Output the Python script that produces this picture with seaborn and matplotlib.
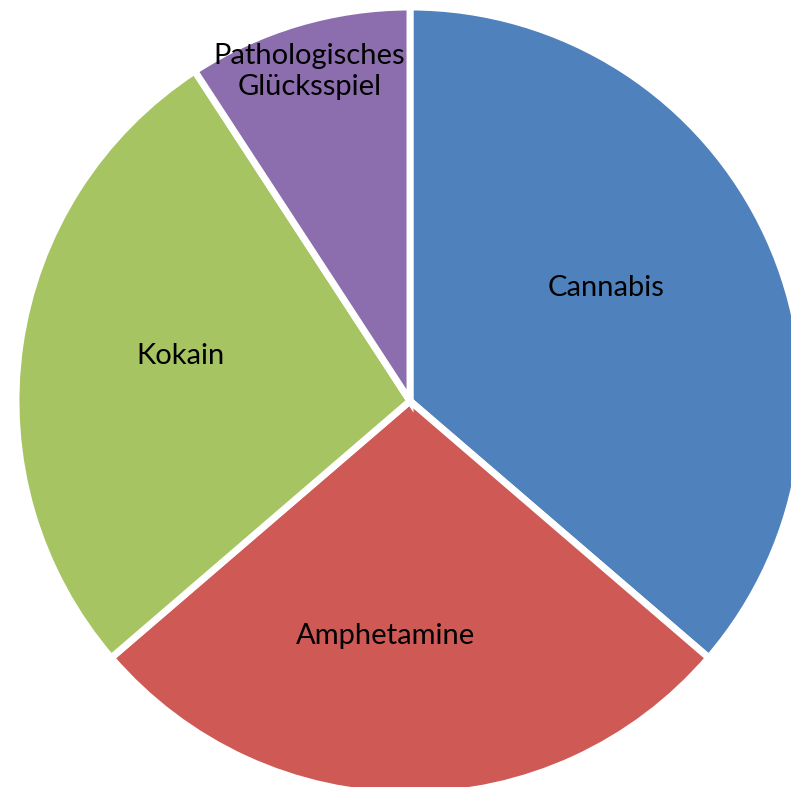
import matplotlib
matplotlib.use("Agg")
import matplotlib.pyplot as plt
import seaborn as sns
import numpy as np

categories = ["Cannabis", "Amphetamine", "Kokain", "Pathologisches\nGlücksspiel"]
values = [36.3, 27.4, 27.1, 9.2]
colors = ["#4F81BD", "#CF5955", "#A6C462", "#8C6DAE"]
# label placement relative to pie centre (fraction of radius, angle in degrees)
label_polar = [(0.574, 30.0), (0.601, -96.0), (0.594, 168.8), (0.874, 107.0)]

sns.set_theme(style="white")
plt.rcParams['font.family'] = ['Lato', 'DejaVu Sans']

W, H = 791, 787
fig = plt.figure(figsize=(W / 100, H / 100), dpi=100)
ax = fig.add_axes([0, 0, 1, 1])

cx, cy, R = 410, H - 401, 394
wedges, texts = ax.pie(values, labels=categories, colors=colors, startangle=90,
                       counterclock=False, center=(cx, cy), radius=R,
                       labeldistance=0.6, frame=True,
                       wedgeprops=dict(edgecolor="white", linewidth=5),
                       textprops=dict(fontsize=21, color="black", ha="center", va="center"))
ax.set_xlim(0, W)
ax.set_ylim(0, H)
ax.set_aspect('equal')
ax.axis('off')

for t, (fr, ang) in zip(texts, label_polar):
    a = np.deg2rad(ang)
    t.set_position((cx + fr * R * np.cos(a), cy + fr * R * np.sin(a)))
    t.set_ha("center")
    t.set_va("center")
    t.set_linespacing(1.25)

fig.savefig("out.png", dpi=100)
